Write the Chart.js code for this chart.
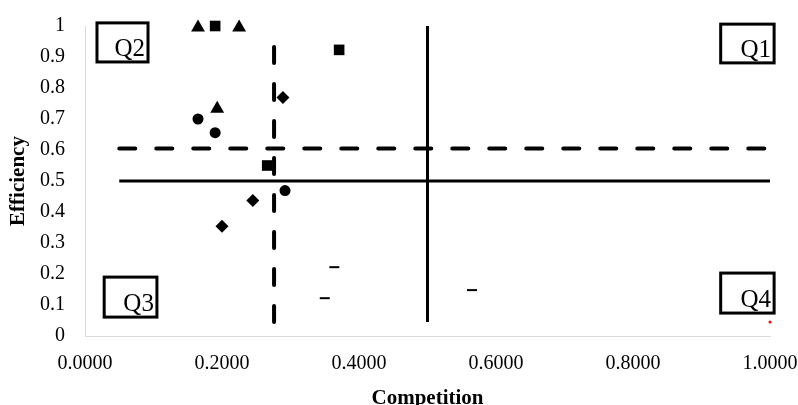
<!DOCTYPE html>
<html>
<head>
<meta charset="utf-8">
<script src="https://cdn.jsdelivr.net/npm/chart.js@4/dist/chart.umd.min.js"></script>
<style>
  body { margin: 0; background: #fff; }
  #wrap { width: 798px; height: 405px; }
</style>
</head>
<body>
<div id="wrap"><canvas id="quadChart"></canvas></div>
<script>
// marker groups (competition, efficiency)
const triX = [0.165, 0.225, 0.193];
const triY = [0.995, 0.995, 0.733];
const sqX = [0.19, 0.371, 0.266];
const sqY = [1.0, 0.923, 0.55];
const dotX = [0.165, 0.19, 0.292];
const dotY = [0.70, 0.656, 0.469];
const diaX = [0.289, 0.245, 0.2];
const diaY = [0.769, 0.437, 0.354];
const dashX = [0.364, 0.35, 0.565];
const dashY = [0.222, 0.122, 0.148];
const redX = [1.0];
const redY = [0.045];

// quadrant guide lines
const solidVX = [0.5, 0.5];
const solidVY = [0.045, 1.0];
const solidHX = [0.05, 1.0];
const solidHY = [0.5, 0.5];
const dashVX = [0.276, 0.276];
const dashVY = [0.045, 0.95];
const dashHX = [0.05, 1.0];
const dashHY = [0.605, 0.605];

const xTicks = [0, 0.2, 0.4, 0.6, 0.8, 1.0];
const yTicks = [0, 0.1, 0.2, 0.3, 0.4, 0.5, 0.6, 0.7, 0.8, 0.9, 1.0];

// quadrant label boxes in data units: [x0, x1, yTop, yBottom]
const quadNames = ["Q1", "Q2", "Q3", "Q4"];
const quadBoxes = [
  [0.928, 1.006, 1.006, 0.881],
  [0.0175, 0.092, 1.01, 0.884],
  [0.028, 0.105, 0.19, 0.061],
  [0.928, 1.006, 0.203, 0.074],
];

const pts = (xs, ys) => xs.map((x, i) => ({ x: x, y: ys[i] }));

function markers(xs, ys, style, r, color) {
  return {
    data: pts(xs, ys),
    pointStyle: style,
    pointRadius: r,
    backgroundColor: color || "#000",
    borderColor: color || "#000",
    borderWidth: style === "line" ? 2 : 0,
    showLine: false,
    clip: false,
  };
}

function guide(xs, ys, dash) {
  return {
    data: pts(xs, ys),
    showLine: true,
    pointRadius: 0,
    borderColor: "#000",
    borderWidth: dash ? 4 : 3,
    borderDash: dash ? [16, 21] : [],
    borderCapStyle: dash ? "round" : "butt",
    clip: false,
  };
}

const quadPlugin = {
  id: "quadBoxes",
  afterDatasetsDraw(chart) {
    const { ctx, scales } = chart;
    ctx.save();
    quadBoxes.forEach((b, i) => {
      const x0 = scales.x.getPixelForValue(b[0]);
      const x1 = scales.x.getPixelForValue(b[1]);
      const y0 = scales.y.getPixelForValue(b[2]);
      const y1 = scales.y.getPixelForValue(b[3]);
      ctx.fillStyle = "#fff";
      ctx.fillRect(x0, y0, x1 - x0, y1 - y0);
      ctx.lineWidth = 3;
      ctx.strokeStyle = "#000";
      ctx.strokeRect(x0, y0, x1 - x0, y1 - y0);
      ctx.fillStyle = "#000";
      ctx.font = "25px 'Liberation Serif'";
      ctx.textAlign = "right";
      ctx.textBaseline = "alphabetic";
      ctx.fillText(quadNames[i], x1 - 3, y1 - 6);
    });
    ctx.restore();
  },
};

const tickFont = { family: "'Liberation Serif'", size: 20 };
const titleFont = { family: "'Liberation Serif'", size: 21, weight: "bold", lineHeight: 1.0 };

new Chart(document.getElementById("quadChart"), {
  type: "scatter",
  data: {
    datasets: [
      guide(solidHX, solidHY, false),
      guide(solidVX, solidVY, false),
      guide(dashHX, dashHY, true),
      guide(dashVX, dashVY, true),
      markers(triX, triY, "triangle", 8),
      markers(sqX, sqY, "rect", 7.5),
      markers(dotX, dotY, "circle", 5.5),
      markers(diaX, diaY, "rectRot", 6.5),
      markers(dashX, dashY, "line", 5),
      markers(redX, redY, "circle", 1.5, "#ff0000"),
    ],
  },
  options: {
    responsive: true,
    maintainAspectRatio: false,
    animation: false,
    layout: { padding: { top: 26, right: 28, bottom: 0, left: 0 } },
    plugins: { legend: { display: false }, tooltip: { enabled: false } },
    scales: {
      x: {
        type: "linear",
        min: 0,
        max: 1,
        afterBuildTicks: (s) => { s.ticks = xTicks.map((v) => ({ value: v })); },
        afterFit: (s) => {
          s.height = 69;
          s.paddingLeft = 0;
          s.paddingRight = 0;
        },
        grid: { display: false },
        border: { display: true, color: "#d9d9d9", width: 1 },
        ticks: {
          color: "#000",
          font: tickFont,
          padding: 8,
          maxRotation: 0,
          callback: (v) => Number(v).toFixed(4),
        },
        title: {
          display: true,
          text: "Competition",
          color: "#000",
          font: titleFont,
          padding: { top: 0, bottom: -4 },
        },
      },
      y: {
        type: "linear",
        min: 0,
        max: 1,
        afterBuildTicks: (s) => { s.ticks = yTicks.map((v) => ({ value: v })); },
        afterFit: (s) => {
          s.width = 85;
          s.paddingTop = 0;
          s.paddingBottom = 0;
        },
        grid: { display: false },
        border: { display: true, color: "#d9d9d9", width: 1 },
        ticks: {
          color: "#000",
          font: tickFont,
          padding: 12,
          callback: (v) => String(Number(Number(v).toFixed(1))),
        },
        title: {
          display: true,
          text: "Efficiency",
          color: "#000",
          font: titleFont,
          padding: { top: 8, bottom: 0 },
        },
      },
    },
  },
  plugins: [quadPlugin],
});
</script>
</body>
</html>
